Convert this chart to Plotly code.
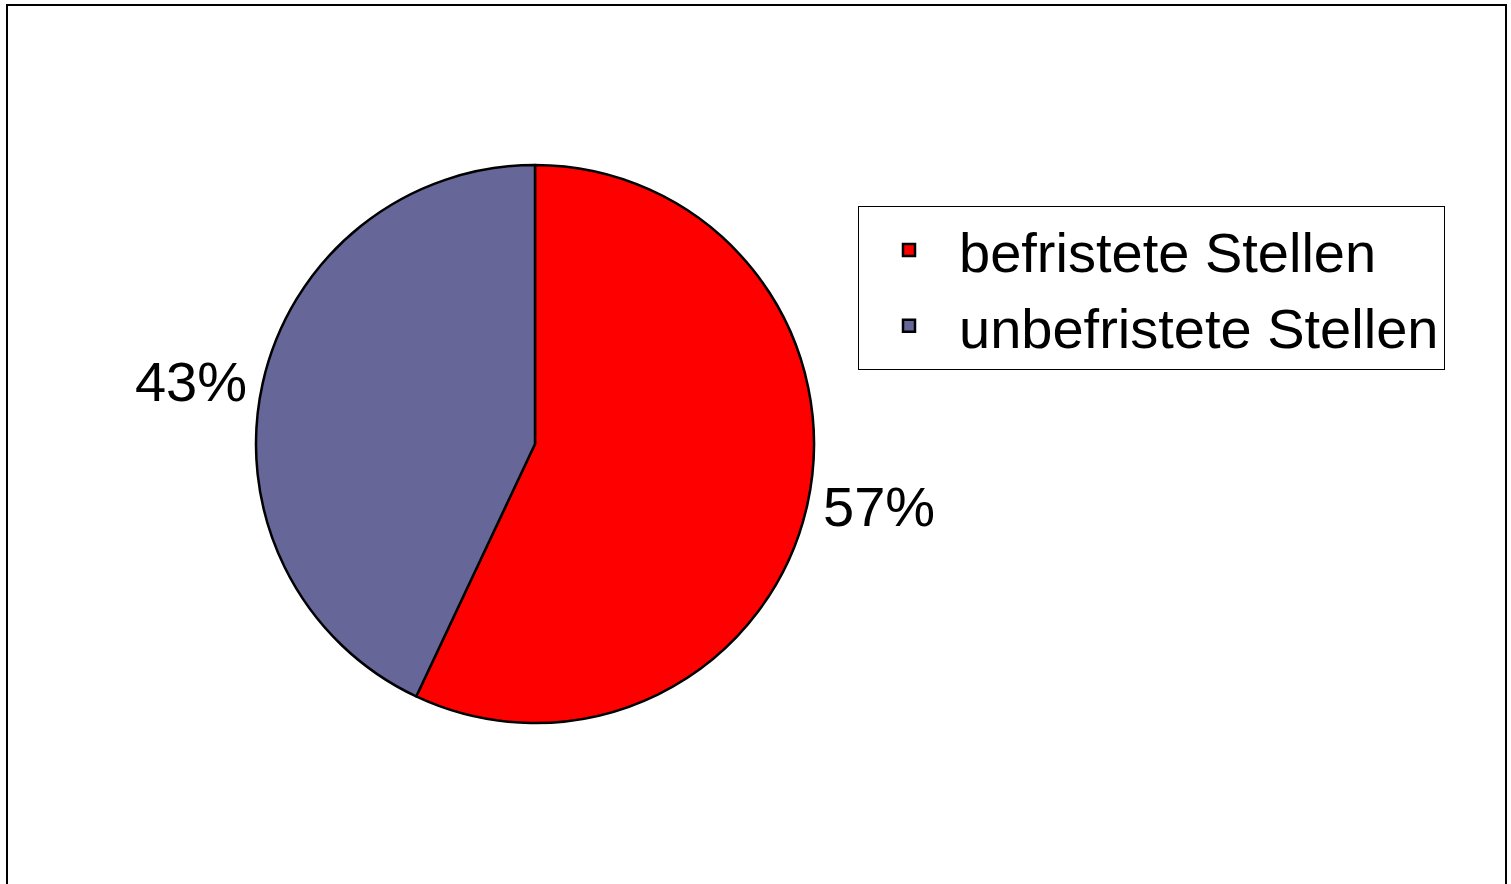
import plotly.graph_objects as go

categories = ["befristete Stellen", "unbefristete Stellen"]
values = [57, 43]
colors = ["#FF0000", "#666699"]

W, H = 1511, 884
FONT = "Liberation Sans, Arial, sans-serif"

fig = go.Figure()
fig.add_trace(go.Pie(
    labels=categories,
    values=values,
    sort=False,
    direction="clockwise",
    rotation=0,
    marker=dict(colors=colors, line=dict(color="black", width=2.5)),
    textinfo="percent",
    textposition="outside",
    outsidetextfont=dict(family=FONT, size=56, color="black"),
    domain=dict(x=[(535 - 279) / W, (535 + 279) / W], y=[(440 - 279) / H, (440 + 279) / H]),
    hoverinfo="label+percent",
))

fig.update_layout(
    width=W, height=H,
    margin=dict(l=0, r=0, t=0, b=0),
    paper_bgcolor="white",
    plot_bgcolor="white",
    font=dict(family=FONT, size=56, color="black"),
    showlegend=True,
    legend=dict(
        x=858 / W, y=1 - 206 / H, xanchor="left", yanchor="top",
        bordercolor="black", borderwidth=1, bgcolor="white",
        font=dict(family=FONT, size=56, color="black"),
        itemwidth=90,
        entrywidth=600, entrywidthmode="pixels",
        tracegroupgap=0,
    ),
    shapes=[dict(type="rect", xref="paper", yref="paper",
                 x0=7 / W, x1=1506 / W, y0=-0.02, y1=1 - 5 / H,
                 line=dict(color="black", width=2), fillcolor="rgba(0,0,0,0)")],
)

fig.write_html("out.html", config={"displayModeBar": False},
               post_script="document.body.style.margin='0';")
